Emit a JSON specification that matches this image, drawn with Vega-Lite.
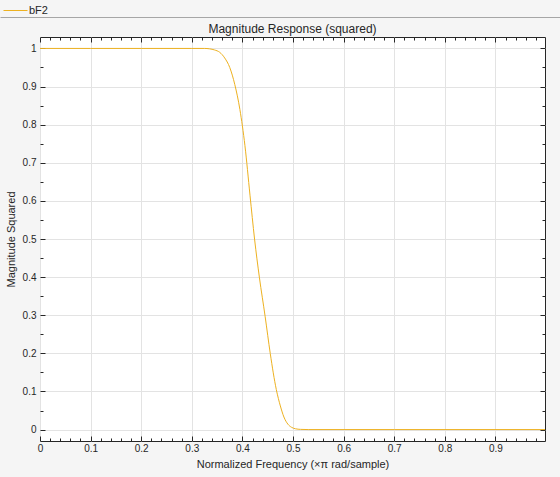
{
  "$schema": "https://vega.github.io/schema/vega-lite/v6.json",
  "width": 505,
  "height": 404,
  "autosize": {"type": "none"},
  "padding": {"left": 40, "top": 37, "right": 15, "bottom": 36},
  "background": "#f5f5f5",
  "config": {
    "view": {"fill": "white", "stroke": "#262626", "strokeWidth": 1},
    "font": "Liberation Sans"
  },
  "title": {"text": "Magnitude Response (squared)", "fontSize": 12, "fontWeight": "normal", "color": "#262626", "offset": -36, "dy": 2, "font": "Liberation Sans"},
  "data": {"values": [
    {"f": 0, "m": 1, "s": "bF2"},
    {"f": 0.1, "m": 1, "s": "bF2"},
    {"f": 0.2, "m": 1, "s": "bF2"},
    {"f": 0.3, "m": 1, "s": "bF2"},
    {"f": 0.325, "m": 1, "s": "bF2"},
    {"f": 0.335, "m": 0.999, "s": "bF2"},
    {"f": 0.345, "m": 0.996, "s": "bF2"},
    {"f": 0.355, "m": 0.99, "s": "bF2"},
    {"f": 0.365, "m": 0.975, "s": "bF2"},
    {"f": 0.375, "m": 0.95, "s": "bF2"},
    {"f": 0.385, "m": 0.905, "s": "bF2"},
    {"f": 0.395, "m": 0.84, "s": "bF2"},
    {"f": 0.405, "m": 0.745, "s": "bF2"},
    {"f": 0.415, "m": 0.615, "s": "bF2"},
    {"f": 0.424, "m": 0.5, "s": "bF2"},
    {"f": 0.4335, "m": 0.4, "s": "bF2"},
    {"f": 0.445, "m": 0.296, "s": "bF2"},
    {"f": 0.455, "m": 0.2, "s": "bF2"},
    {"f": 0.467, "m": 0.105, "s": "bF2"},
    {"f": 0.475, "m": 0.062, "s": "bF2"},
    {"f": 0.482, "m": 0.033, "s": "bF2"},
    {"f": 0.49, "m": 0.014, "s": "bF2"},
    {"f": 0.497, "m": 0.006, "s": "bF2"},
    {"f": 0.505, "m": 0.002, "s": "bF2"},
    {"f": 0.515, "m": 0.0005, "s": "bF2"},
    {"f": 0.53, "m": 0, "s": "bF2"},
    {"f": 0.7, "m": 0, "s": "bF2"},
    {"f": 0.998, "m": 0, "s": "bF2"}
  ]},
  "layer": [
    {
      "mark": {"type": "line", "strokeWidth": 1, "interpolate": "monotone", "clip": true},
      "encoding": {
        "x": {
          "field": "f", "type": "quantitative",
          "scale": {"domain": [0, 0.998], "nice": false, "zero": false},
          "axis": {
            "orient": "bottom",
            "title": "Normalized Frequency (×π rad/sample)",
            "titleFontSize": 11, "titleFontWeight": "normal", "titleColor": "#262626", "titlePadding": 5,
            "values": [0,0.02,0.04,0.06,0.08,0.1,0.12,0.14,0.16,0.18,0.2,0.22,0.24,0.26,0.28,0.3,0.32,0.34,0.36,0.38,0.4,0.42,0.44,0.46,0.48,0.5,0.52,0.54,0.56,0.58,0.6,0.62,0.64,0.66,0.68,0.7,0.72,0.74,0.76,0.78,0.8,0.82,0.84,0.86,0.88,0.9,0.92,0.94,0.96,0.98],
            "labelExpr": "abs(datum.value*10 - round(datum.value*10)) < 0.001 ? format(datum.value, '.1~f') : ''",
            "labelFontSize": 10, "labelColor": "#262626", "labelPadding": 7, "labelFlush": false,
            "domain": false,
            "tickColor": "#262626",
            "tickSize": {"condition": {"test": "abs(datum.value*10 - round(datum.value*10)) < 0.001", "value": -5}, "value": -3},
            "grid": true, "gridColor": "#e3e3e3",
            "gridOpacity": {"condition": {"test": "abs(datum.value*10 - round(datum.value*10)) < 0.001", "value": 1}, "value": 0}
          }
        },
        "y": {
          "field": "m", "type": "quantitative",
          "scale": {"domain": [-0.03, 1.03], "nice": false, "zero": false},
          "axis": {
            "orient": "left",
            "title": "Magnitude Squared",
            "titleFontSize": 11, "titleFontWeight": "normal", "titleColor": "#262626", "titlePadding": 6,
            "values": [0,0.05,0.1,0.15,0.2,0.25,0.3,0.35,0.4,0.45,0.5,0.55,0.6,0.65,0.7,0.75,0.8,0.85,0.9,0.95,1],
            "labelExpr": "abs(datum.value*10 - round(datum.value*10)) < 0.001 ? format(datum.value, '.1~f') : ''",
            "labelFontSize": 10, "labelColor": "#262626", "labelPadding": 9, "labelFlush": false,
            "domain": false,
            "tickColor": "#262626",
            "tickSize": {"condition": {"test": "abs(datum.value*10 - round(datum.value*10)) < 0.001", "value": -5}, "value": -3},
            "grid": true, "gridColor": "#e3e3e3",
            "gridOpacity": {"condition": {"test": "abs(datum.value*10 - round(datum.value*10)) < 0.001", "value": 1}, "value": 0}
          }
        },
        "color": {
          "field": "s", "type": "nominal",
          "scale": {"range": ["#EDB120"]},
          "legend": {
            "orient": "none", "legendX": -37, "legendY": -39, "title": null,
            "symbolType": "stroke", "symbolSize": 576, "symbolStrokeWidth": 1,
            "labelFontSize": 11, "labelColor": "#262626", "labelOffset": 1, "padding": 0
          }
        }
      }
    },
    {
      "mark": {"type": "line", "strokeOpacity": 0},
      "encoding": {
        "x": {
          "field": "f", "type": "quantitative",
          "scale": {"domain": [0, 0.998], "nice": false, "zero": false},
          "axis": {
            "orient": "top", "title": null, "labels": false, "domain": false, "grid": false,
            "values": [0,0.02,0.04,0.06,0.08,0.1,0.12,0.14,0.16,0.18,0.2,0.22,0.24,0.26,0.28,0.3,0.32,0.34,0.36,0.38,0.4,0.42,0.44,0.46,0.48,0.5,0.52,0.54,0.56,0.58,0.6,0.62,0.64,0.66,0.68,0.7,0.72,0.74,0.76,0.78,0.8,0.82,0.84,0.86,0.88,0.9,0.92,0.94,0.96,0.98],
            "tickColor": "#262626",
            "tickSize": {"condition": {"test": "abs(datum.value*10 - round(datum.value*10)) < 0.001", "value": -5}, "value": -3}
          }
        },
        "y": {
          "field": "m", "type": "quantitative",
          "scale": {"domain": [-0.03, 1.03], "nice": false, "zero": false},
          "axis": {
            "orient": "right", "title": null, "labels": false, "domain": false, "grid": false,
            "values": [0,0.05,0.1,0.15,0.2,0.25,0.3,0.35,0.4,0.45,0.5,0.55,0.6,0.65,0.7,0.75,0.8,0.85,0.9,0.95,1],
            "tickColor": "#262626",
            "tickSize": {"condition": {"test": "abs(datum.value*10 - round(datum.value*10)) < 0.001", "value": -5}, "value": -3}
          }
        }
      }
    },
    {
      "mark": {"type": "line", "strokeOpacity": 0},
      "encoding": {
        "x": {
          "field": "f", "type": "quantitative",
          "scale": {"domain": [0, 1], "range": [-40, 520], "nice": false, "zero": false},
          "axis": {
            "orient": "top", "offset": 20, "title": null, "labels": false, "ticks": false, "grid": false,
            "domain": true, "domainColor": "#a6a6a6", "domainWidth": 1
          }
        },
        "y": {
          "field": "m", "type": "quantitative",
          "scale": {"domain": [-0.03, 1.03], "nice": false, "zero": false},
          "axis": null
        }
      }
    }
  ],
  "resolve": {"scale": {"x": "independent", "y": "independent"}, "axis": {"x": "independent", "y": "independent"}}
}
